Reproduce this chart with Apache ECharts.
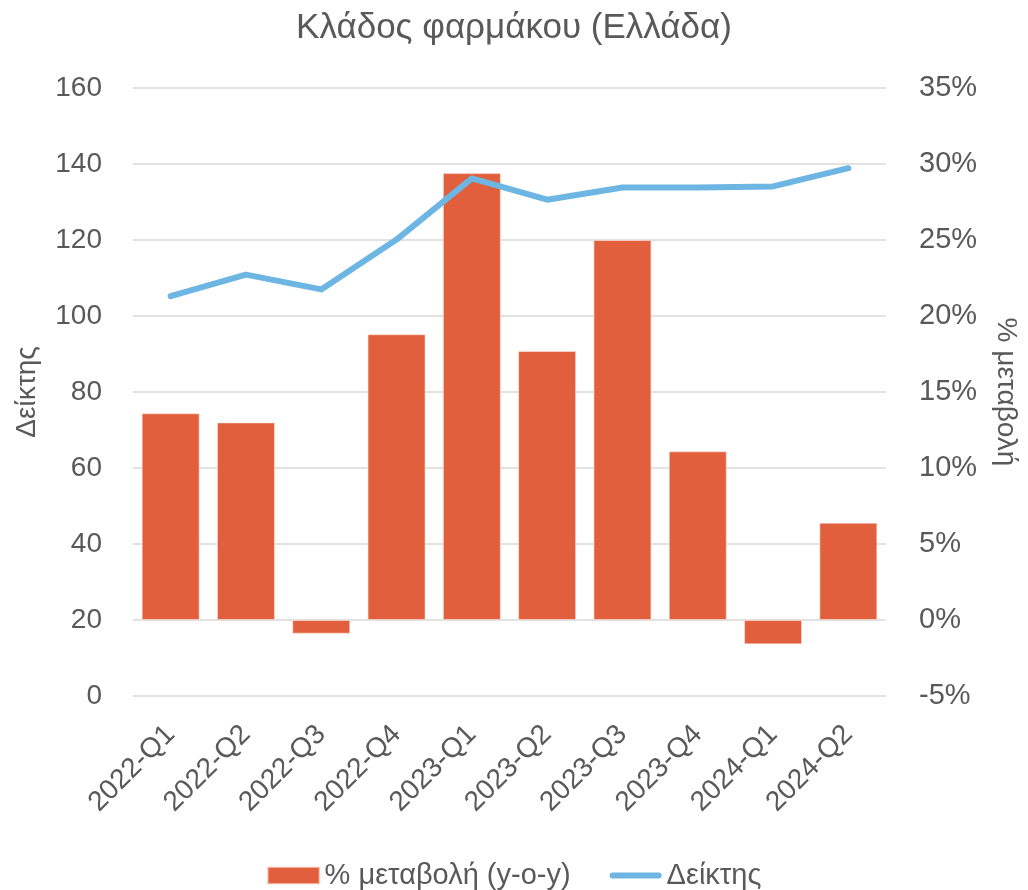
<!DOCTYPE html>
<html>
<head>
<meta charset="utf-8">
<title>Κλάδος φαρμάκου (Ελλάδα)</title>
<script src="https://cdn.jsdelivr.net/npm/echarts@6/dist/echarts.min.js"></script>
<style>
  html, body { margin: 0; padding: 0; background: #ffffff; }
  #chart { width: 1028px; height: 890px; }
</style>
</head>
<body>
<div id="chart"></div>
<script>
// Quarterly categories
const quarters = ['2022-Q1', '2022-Q2', '2022-Q3', '2022-Q4', '2023-Q1', '2023-Q2', '2023-Q3', '2023-Q4', '2024-Q1', '2024-Q2'];
// Year-on-year change, percent (right axis)
const yoyChange = [13.6, 13.0, -0.9, 18.8, 29.4, 17.7, 25.0, 11.1, -1.6, 6.4];
// Index level (left axis)
const indexLevel = [105.2, 110.9, 107.0, 120.1, 136.2, 130.6, 133.8, 133.8, 134.1, 138.9];

const seriesNames = ['% μεταβολή (y-o-y)', 'Δείκτης'];
const titleText = 'Κλάδος φαρμάκου (Ελλάδα)';
const leftAxisName = 'Δείκτης';
const rightAxisName = '% μεταβολή';

const FONT = '"Liberation Sans", Arial, "DejaVu Sans", sans-serif';
const TEXT = '#595959';
const BAR_COLOR = '#e15f3c';
const LINE_COLOR = '#6db5e3';

// thick rounded stroke used as the legend marker of the index line
const LINE_ICON = 'path://M3,0 L49,0 A3,3 0 0 1 49,6 L3,6 A3,3 0 0 1 3,0 Z';

const chart = echarts.init(document.getElementById('chart'), null, { renderer: 'canvas' });

chart.setOption({
  backgroundColor: '#ffffff',
  animation: false,
  textStyle: { fontFamily: FONT, color: TEXT },
  title: {
    text: titleText,
    left: 'center',
    top: 6,
    textStyle: { fontFamily: FONT, fontSize: 35, fontWeight: 'normal', color: TEXT }
  },
  legend: {
    bottom: -5,
    left: 'center',
    itemWidth: 52,
    itemHeight: 17,
    itemGap: 39,
    textStyle: { fontFamily: FONT, fontSize: 29, color: TEXT },
    data: [
      { name: seriesNames[0], icon: 'rect' },
      { name: seriesNames[1], icon: LINE_ICON, itemStyle: { color: LINE_COLOR } }
    ]
  },
  grid: { left: 133, right: 136, top: 88, bottom: 194 },
  xAxis: {
    type: 'category',
    data: quarters,
    boundaryGap: true,
    axisLine: { show: false },
    axisTick: { show: false },
    axisLabel: {
      rotate: 45,
      margin: 34,
      fontFamily: FONT,
      fontSize: 28,
      color: TEXT,
      interval: 0
    }
  },
  yAxis: [
    {
      type: 'value',
      min: 0,
      max: 160,
      interval: 20,
      name: leftAxisName,
      nameLocation: 'middle',
      nameGap: 92,
      nameTextStyle: { fontFamily: FONT, fontSize: 28, color: TEXT },
      axisLine: { show: false },
      axisTick: { show: false },
      axisLabel: { margin: 31, fontFamily: FONT, fontSize: 28, color: TEXT },
      splitLine: { show: true, lineStyle: { color: '#d9d9d9', width: 1.5 } }
    },
    {
      type: 'value',
      min: -5,
      max: 35,
      interval: 5,
      position: 'right',
      name: rightAxisName,
      nameLocation: 'middle',
      nameGap: 106,
      nameRotate: -90,
      nameTextStyle: { fontFamily: FONT, fontSize: 28, color: TEXT },
      axisLine: { show: false },
      axisTick: { show: false },
      axisLabel: { margin: 33, fontFamily: FONT, fontSize: 29, color: TEXT, formatter: '{value}%' },
      splitLine: { show: false }
    }
  ],
  series: [
    {
      name: seriesNames[0],
      type: 'bar',
      yAxisIndex: 1,
      data: yoyChange,
      barWidth: 58,
      itemStyle: { color: BAR_COLOR, borderColor: 'rgba(255,230,220,0.6)', borderWidth: 1 }
    },
    {
      name: seriesNames[1],
      type: 'line',
      yAxisIndex: 0,
      data: indexLevel,
      symbol: 'none',
      lineStyle: { color: LINE_COLOR, width: 6, cap: 'round', join: 'round' },
      itemStyle: { color: LINE_COLOR },
      z: 5
    }
  ]
});
</script>
</body>
</html>
